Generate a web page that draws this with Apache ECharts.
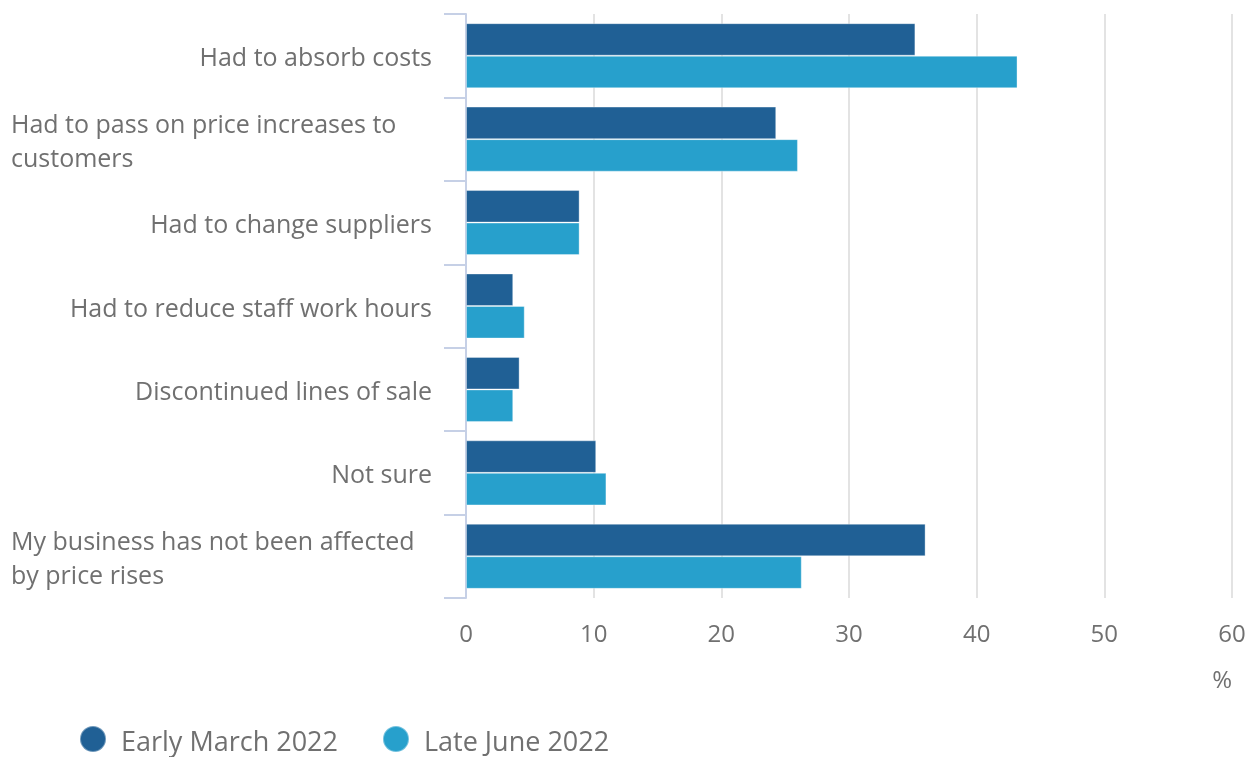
<!DOCTYPE html>
<html>
<head>
<meta charset="utf-8">
<script src="https://cdn.jsdelivr.net/npm/echarts@6/dist/echarts.min.js"></script>
<style>
  html, body { margin: 0; padding: 0; background: #fff; }
  #chart { width: 1254px; height: 757px; }
</style>
</head>
<body>
<div id="chart"></div>
<script>
// Business responses to rising prices, share of businesses (%)
const categories = [
  'Had to absorb costs',
  'Had to pass on price increases to\ncustomers',
  'Had to change suppliers',
  'Had to reduce staff work hours',
  'Discontinued lines of sale',
  'Not sure',
  'My business has not been affected\nby price rises'
];
const seriesNames = ['Early March 2022', 'Late June 2022'];
const earlyMarch = [35.2, 24.3, 8.9, 3.7, 4.2, 10.2, 36.0];
const lateJune = [43.2, 26.0, 8.9, 4.6, 3.7, 11.0, 26.3];
const xTicks = { min: 0, max: 60, interval: 10 };

const FONT = '"Open Sans", "Noto Sans", sans-serif';
const GREY = '#707070';
const AXIS_BLUE = '#c6d0e6';

const chart = echarts.init(document.getElementById('chart'), null, { renderer: 'canvas' });

chart.setOption({
  animation: false,
  textStyle: { fontFamily: FONT },
  grid: { left: 466, right: 22, top: 14, bottom: 159, containLabel: false },
  legend: {
    left: 79,
    top: 725,
    padding: 0,
    icon: 'circle',
    itemWidth: 26,
    itemHeight: 26,
    itemGap: 44,
    formatter: '{t|{name}}',
    textStyle: {
      fontFamily: FONT, fontSize: 27, color: GREY,
      rich: { t: { fontFamily: FONT, fontSize: 27, color: GREY, padding: [8, 0, 0, 10] } }
    },
    data: seriesNames
  },
  xAxis: {
    type: 'value',
    min: xTicks.min,
    max: xTicks.max,
    interval: xTicks.interval,
    axisLine: { show: false },
    axisTick: { show: false },
    splitLine: { lineStyle: { color: '#e3e3e3', width: 2 } },
    axisLabel: { fontFamily: FONT, fontSize: 24, color: GREY, margin: 25 },
    name: '%',
    nameLocation: 'end',
    nameGap: 0,
    nameTextStyle: {
      fontFamily: FONT, fontSize: 24, color: GREY,
      align: 'right', verticalAlign: 'top', padding: [71, 0, 0, 0]
    }
  },
  yAxis: {
    type: 'category',
    inverse: true,
    data: categories,
    axisLine: { show: true, lineStyle: { color: AXIS_BLUE, width: 2 } },
    axisTick: { show: true, length: 22, lineStyle: { color: AXIS_BLUE, width: 2 } },
    axisLabel: {
      fontFamily: FONT,
      fontSize: 25,
      color: GREY,
      margin: 34,
      lineHeight: 34,
      padding: [7, 0, 0, 0],
      formatter: function (value) {
        if (value.indexOf('\n') < 0) return value;
        return value.split('\n').map(function (line) { return '{w|' + line + '}'; }).join('\n');
      },
      rich: {
        w: { width: 421, align: 'left', fontFamily: FONT, fontSize: 25, color: GREY, lineHeight: 34 }
      }
    }
  },
  series: [
    {
      name: seriesNames[0],
      type: 'bar',
      data: earlyMarch,
      barGap: '0%',
      barCategoryGap: '22%',
      itemStyle: { color: '#206095', borderColor: 'rgba(255,255,255,0.35)', borderWidth: 1 }
    },
    {
      name: seriesNames[1],
      type: 'bar',
      data: lateJune,
      barGap: '0%',
      barCategoryGap: '22%',
      itemStyle: { color: '#27a0cc', borderColor: 'rgba(255,255,255,0.35)', borderWidth: 1 }
    }
  ]
});
</script>
</body>
</html>
